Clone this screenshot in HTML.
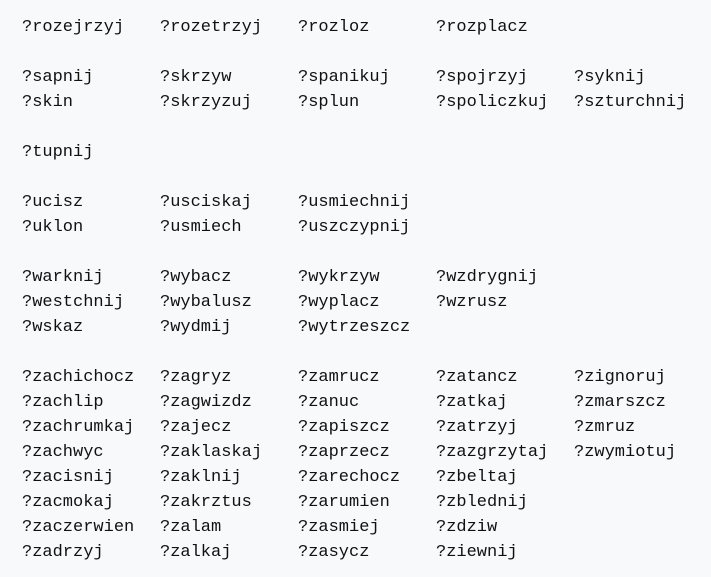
<!DOCTYPE html>
<html><head><meta charset="utf-8"><style>
html,body{margin:0;padding:0;background:#f8f9fa;}
body{width:711px;height:577px;position:relative;overflow:hidden;font-family:"Liberation Mono",monospace;font-size:17px;color:#111;}
span{position:absolute;white-space:pre;line-height:20px;}
</style></head><body>
<script>
const rows={0:["?rozejrzyj","?rozetrzyj","?rozloz","?rozplacz"],
2:["?sapnij","?skrzyw","?spanikuj","?spojrzyj","?syknij"],
3:["?skin","?skrzyzuj","?splun","?spoliczkuj","?szturchnij"],
5:["?tupnij"],
7:["?ucisz","?usciskaj","?usmiechnij"],
8:["?uklon","?usmiech","?uszczypnij"],
10:["?warknij","?wybacz","?wykrzyw","?wzdrygnij"],
11:["?westchnij","?wybalusz","?wyplacz","?wzrusz"],
12:["?wskaz","?wydmij","?wytrzeszcz"],
14:["?zachichocz","?zagryz","?zamrucz","?zatancz","?zignoruj"],
15:["?zachlip","?zagwizdz","?zanuc","?zatkaj","?zmarszcz"],
16:["?zachrumkaj","?zajecz","?zapiszcz","?zatrzyj","?zmruz"],
17:["?zachwyc","?zaklaskaj","?zaprzecz","?zazgrzytaj","?zwymiotuj"],
18:["?zacisnij","?zaklnij","?zarechocz","?zbeltaj"],
19:["?zacmokaj","?zakrztus","?zarumien","?zblednij"],
20:["?zaczerwien","?zalam","?zasmiej","?zdziw"],
21:["?zadrzyj","?zalkaj","?zasycz","?ziewnij"]};
let h="";
for(const r in rows){rows[r].forEach((t,i)=>{h+=`<span style="left:${22+138*i}px;top:${18+25*r}px">${t}</span>`;});}
document.body.innerHTML=h;
</script>
</body></html>
